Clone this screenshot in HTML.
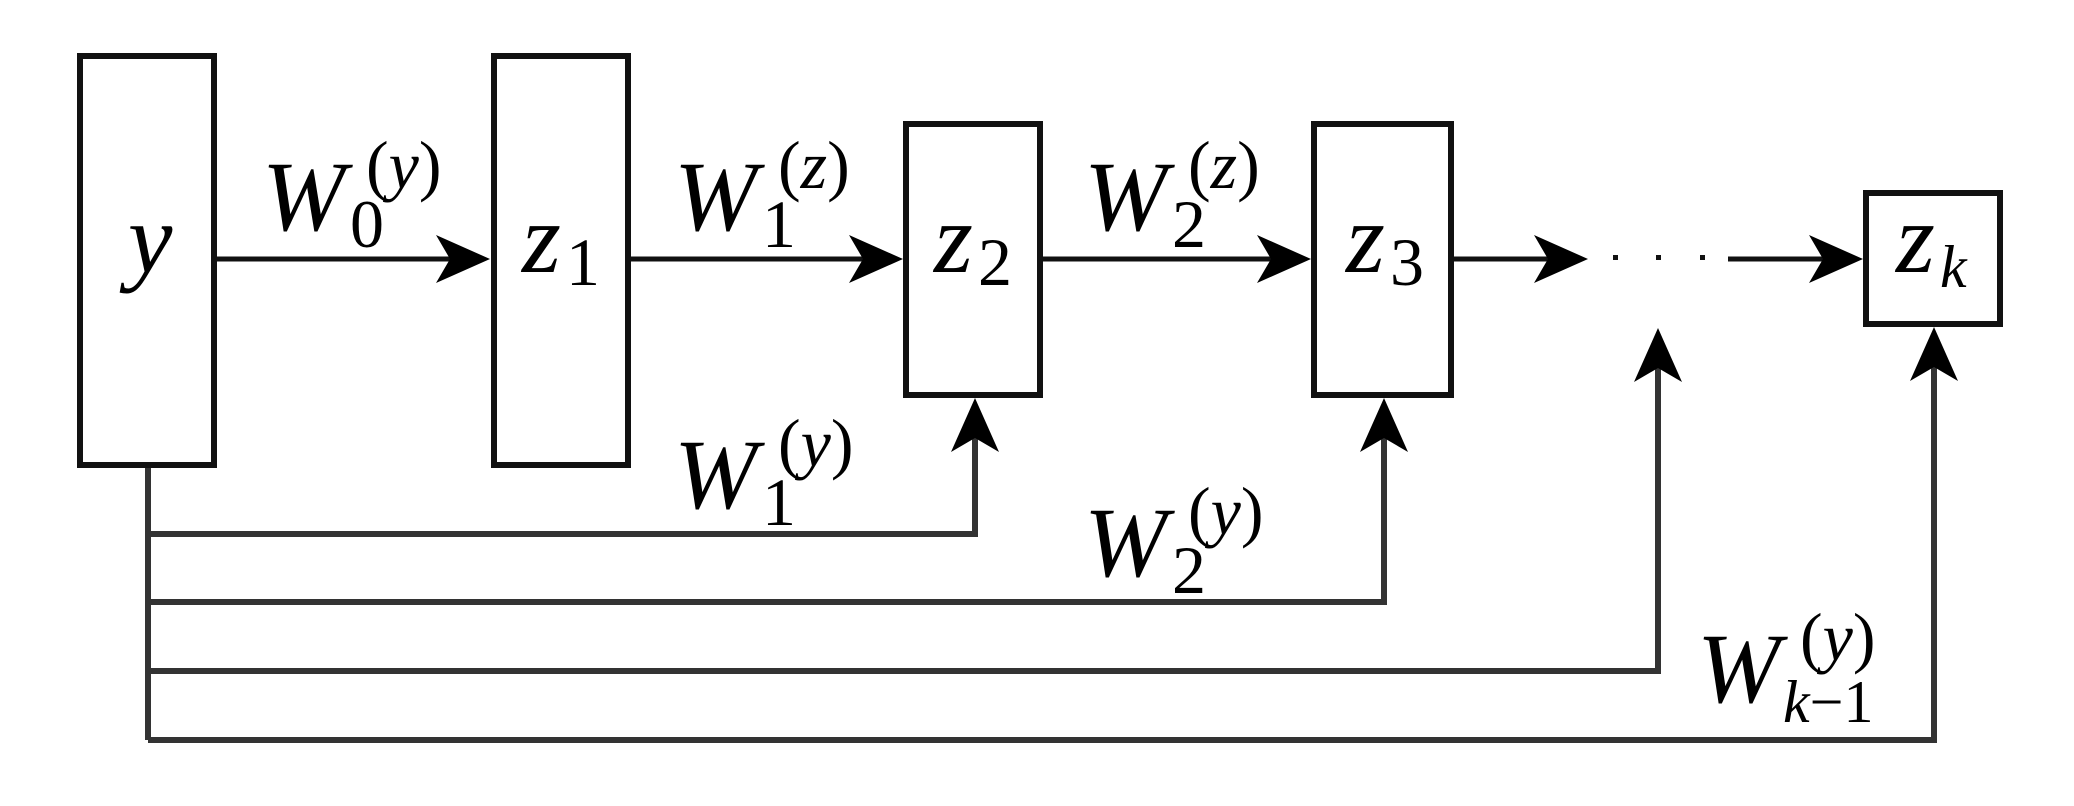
<!DOCTYPE html>
<html><head><meta charset="utf-8"><style>
html,body{margin:0;padding:0;background:#fff;}
svg{display:block;}
</style></head><body>
<svg width="2074" height="806" viewBox="0 0 2074 806" xmlns="http://www.w3.org/2000/svg">
<defs>
<path id="ah" d="M0,0 L-54,-24 L-40,0 L-54,24 Z" fill="#000"/>
</defs>
<g fill="none" stroke="#111" stroke-width="6">
<rect x="80" y="56" width="134" height="409"/>
<rect x="494" y="56" width="134" height="409"/>
<rect x="906" y="124" width="134" height="271"/>
<rect x="1314" y="124" width="137" height="271"/>
<rect x="1866" y="193" width="134" height="131"/>
</g>
<g stroke="#111" stroke-width="5" fill="none">
<line x1="217" y1="259" x2="470" y2="259"/>
<line x1="631" y1="259" x2="885" y2="259"/>
<line x1="1043" y1="259" x2="1293" y2="259"/>
<line x1="1454" y1="259" x2="1570" y2="259"/>
<line x1="1728" y1="259" x2="1845" y2="259"/>
</g>
<g stroke="#333" stroke-width="6" fill="none">
<polyline points="148,468 148,740"/>
<polyline points="148,534 975,534 975,420"/>
<polyline points="148,602 1384,602 1384,420"/>
<polyline points="148,671 1658,671 1658,350"/>
<polyline points="148,740 1934,740 1934,350"/>
</g>
<use href="#ah" transform="translate(490,259)"/>
<use href="#ah" transform="translate(903,259)"/>
<use href="#ah" transform="translate(1311,259)"/>
<use href="#ah" transform="translate(1588,259)"/>
<use href="#ah" transform="translate(1863,259)"/>
<use href="#ah" transform="translate(975,398) rotate(-90)"/>
<use href="#ah" transform="translate(1384,398) rotate(-90)"/>
<use href="#ah" transform="translate(1658,328) rotate(-90)"/>
<use href="#ah" transform="translate(1934,327) rotate(-90)"/>
<g fill="#111">
<rect x="1613" y="255" width="5" height="5"/>
<rect x="1656" y="255" width="5" height="5"/>
<rect x="1700" y="255" width="5" height="5"/>
</g>
<g font-family="Liberation Serif, DejaVu Serif, serif" fill="#000">
<text x="128" y="272" font-size="100" font-style="italic">y</text>
<text x="522" y="272" font-size="100" font-style="italic">z</text><text x="566" y="285" font-size="68">1</text>
<text x="934" y="272" font-size="100" font-style="italic">z</text><text x="978" y="285" font-size="68">2</text>
<text x="1346" y="272" font-size="100" font-style="italic">z</text><text x="1390" y="285" font-size="68">3</text>
<text x="1896" y="272" font-size="100" font-style="italic">z</text><text x="1940" y="287" font-size="60" font-style="italic">k</text>

<text x="262" y="230" font-size="100" font-style="italic">W</text><text x="350" y="247" font-size="68">0</text><text x="366" y="188" font-size="68">(<tspan font-style="italic">y</tspan>)</text>
<text x="674" y="230" font-size="100" font-style="italic">W</text><text x="762" y="247" font-size="68">1</text><text x="778" y="188" font-size="68">(<tspan font-style="italic">z</tspan>)</text>
<text x="1084" y="230" font-size="100" font-style="italic">W</text><text x="1172" y="247" font-size="68">2</text><text x="1188" y="188" font-size="68">(<tspan font-style="italic">z</tspan>)</text>
<text x="674" y="508" font-size="100" font-style="italic">W</text><text x="762" y="525" font-size="68">1</text><text x="778" y="466" font-size="68">(<tspan font-style="italic">y</tspan>)</text>
<text x="1084" y="576" font-size="100" font-style="italic">W</text><text x="1172" y="593" font-size="68">2</text><text x="1188" y="534" font-size="68">(<tspan font-style="italic">y</tspan>)</text>
<text x="1697" y="702" font-size="100" font-style="italic">W</text><text x="1783" y="722" font-size="60"><tspan font-style="italic">k</tspan>−1</text><text x="1800" y="660" font-size="68">(<tspan font-style="italic">y</tspan>)</text>
</g>
</svg>
</body></html>
